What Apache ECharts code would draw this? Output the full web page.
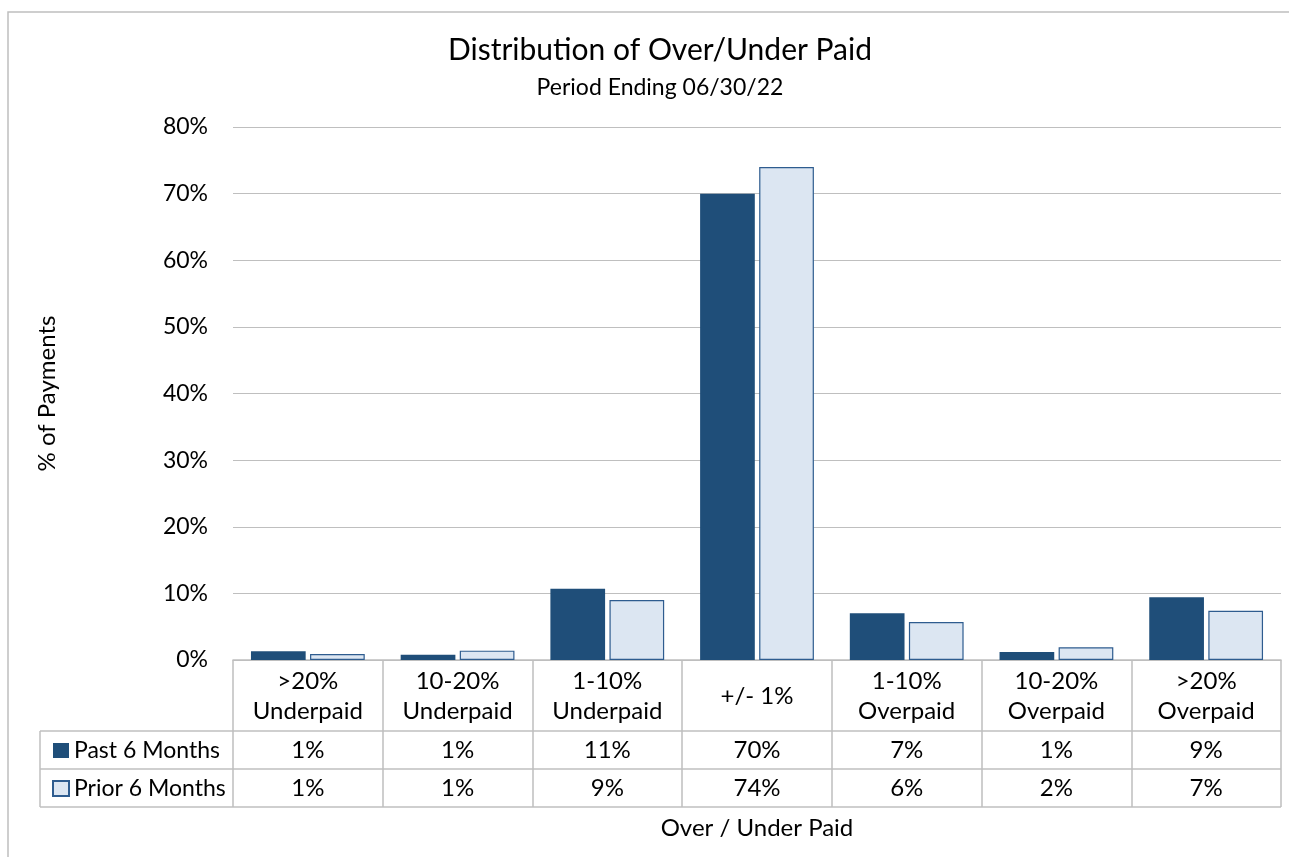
<!DOCTYPE html>
<html>
<head>
<meta charset="utf-8">
<title>Distribution of Over/Under Paid</title>
<script src="https://cdn.jsdelivr.net/npm/echarts@6/dist/echarts.min.js"></script>
<style>
  html, body { margin: 0; padding: 0; background: #fff; }
  #chart { width: 1289px; height: 857px; }
</style>
</head>
<body>
<div id="chart"></div>
<script>
// Payment accuracy buckets
const categories = [
  '>20%\nUnderpaid', '10-20%\nUnderpaid', '1-10%\nUnderpaid', '+/- 1%',
  '1-10%\nOverpaid', '10-20%\nOverpaid', '>20%\nOverpaid'
];
// Share of payments (%) per bucket
const pastSixMonths  = [1.3, 0.8, 10.7, 70.0, 7.0, 1.2, 9.4];
const priorSixMonths = [0.9, 1.4, 9.0, 74.0, 5.7, 1.9, 7.4];
const seriesNames = ['Past 6 Months', 'Prior 6 Months'];
const yTicks = { min: 0, max: 80, interval: 10 };

const FONT = 'Lato, "Open Sans", sans-serif';
const TEXT_SIZE = 24;
const TICK_SIZE = 23;
const GRID_COLOR = '#BFBFBF';
const TABLE_COLOR = '#BFBFBF';

// Layout of the plot area and the data table underneath it
const W = 1289, H = 857;
const plot = { left: 233, right: 1281, top: 127, bottom: 660 };
const tableLeft = 40;
const headerH = 71, rowH = 38;
const row1Top = plot.bottom + headerH;
const row2Top = row1Top + rowH;
const tableBottom = row2Top + rowH;

const fmt = v => Math.round(v) + '%';

const chart = echarts.init(document.getElementById('chart'), null, { renderer: 'canvas' });

const tableLines = [
  // horizontal rules spanning the legend column and data columns
  [tableLeft, row1Top, plot.right, row1Top],
  [tableLeft, row2Top, plot.right, row2Top],
  [tableLeft, tableBottom, plot.right, tableBottom],
  // left edge of the legend column
  [tableLeft, row1Top, tableLeft, tableBottom]
].map(([x1, y1, x2, y2]) => ({
  type: 'line',
  silent: true,
  shape: { x1, y1, x2, y2 },
  style: { stroke: TABLE_COLOR, lineWidth: 1.5 }
}));

const tableText = { fontFamily: FONT, fontSize: TEXT_SIZE, color: '#000' };

const option = {
  backgroundColor: '#fff',
  animation: false,
  textStyle: { fontFamily: FONT, color: '#000' },
  title: {
    text: 'Distribution of Over/Under Paid',
    subtext: 'Period Ending 06/30/22',
    left: 655,
    textAlign: 'center',
    top: 30,
    itemGap: 11,
    textStyle: { fontFamily: FONT, fontSize: 30, fontWeight: 'normal', color: '#000' },
    subtextStyle: { fontFamily: FONT, fontSize: 23, color: '#000' }
  },
  legend: {
    orient: 'vertical',
    left: 47,
    top: 734,
    itemWidth: 16,
    itemHeight: 15,
    itemGap: 15,
    icon: 'rect',
    selectedMode: false,
    textStyle: { fontFamily: FONT, fontSize: 23, color: '#000', lineHeight: 23 },
    data: seriesNames
  },
  grid: {
    left: plot.left,
    right: W - plot.right,
    top: plot.top,
    bottom: H - plot.bottom,
    containLabel: false
  },
  xAxis: [
    {
      type: 'category',
      data: categories,
      position: 'bottom',
      axisLine: { show: true, lineStyle: { color: TABLE_COLOR, width: 1.5 } },
      axisTick: { show: true, interval: 0, alignWithLabel: false, inside: false,
                  length: headerH + 2 * rowH, lineStyle: { color: TABLE_COLOR, width: 1.5 } },
      axisLabel: Object.assign({ interval: 0, margin: 36, verticalAlign: 'middle', lineHeight: 30 }, tableText),
      splitLine: { show: false }
    },
    {
      type: 'category',
      data: pastSixMonths.map(fmt),
      position: 'bottom',
      offset: headerH,
      axisLine: { show: false },
      axisTick: { show: false },
      axisLabel: Object.assign({ interval: 0, margin: 19, verticalAlign: 'middle' }, tableText)
    },
    {
      type: 'category',
      data: priorSixMonths.map(fmt),
      position: 'bottom',
      offset: headerH + rowH,
      axisLine: { show: false },
      axisTick: { show: false },
      axisLabel: Object.assign({ interval: 0, margin: 19, verticalAlign: 'middle' }, tableText),
      name: 'Over / Under Paid',
      nameLocation: 'middle',
      nameGap: 59,
      nameTextStyle: Object.assign({ verticalAlign: 'middle' }, tableText)
    }
  ],
  yAxis: {
    type: 'value',
    min: yTicks.min,
    max: yTicks.max,
    interval: yTicks.interval,
    axisLine: { show: false },
    axisTick: { show: false },
    axisLabel: { formatter: '{value}%', margin: 25, fontFamily: FONT, fontSize: TICK_SIZE, color: '#000' },
    splitLine: { show: true, lineStyle: { color: GRID_COLOR, width: 1 } },
    name: '% of Payments',
    nameLocation: 'middle',
    nameGap: 174,
    nameRotate: 90,
    nameTextStyle: tableText
  },
  series: [
    {
      name: seriesNames[0],
      type: 'bar',
      xAxisIndex: 0,
      data: pastSixMonths,
      barGap: '8%',
      barCategoryGap: '24%',
      itemStyle: { color: '#1F4E79', borderColor: '#1F4E79', borderWidth: 0 }
    },
    {
      name: seriesNames[1],
      type: 'bar',
      xAxisIndex: 0,
      data: priorSixMonths,
      itemStyle: { color: '#DCE6F2', borderColor: '#2E5C8F', borderWidth: 1.2 }
    }
  ],
  graphic: [
    {
      type: 'rect',
      silent: true,
      shape: { x: 8, y: 12, width: W + 20, height: H + 20 },
      style: { fill: 'none', stroke: '#BFBFBF', lineWidth: 1.5 }
    },
    ...tableLines
  ]
};

chart.setOption(option);
</script>
</body>
</html>
